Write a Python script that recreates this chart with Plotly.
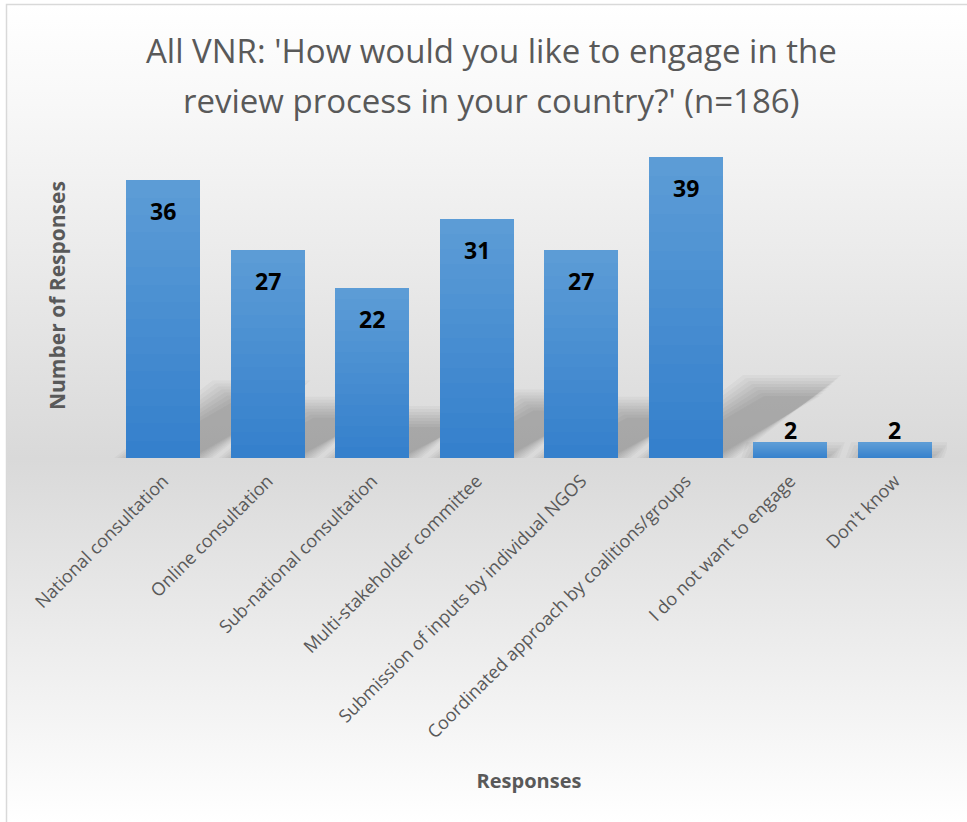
import base64

import plotly.graph_objects as go

categories = [
    "National consultation",
    "Online consultation",
    "Sub-national consultation",
    "Multi-stakeholder committee",
    "Submission of inputs by individual NGOS",
    "Coordinated approach by coalitions/groups",
    "I do not want to engage",
    "Don't know",
]
responses = [36, 27, 22, 31, 27, 39, 2, 2]

TITLE_1 = "All VNR: 'How would you like to engage in the"
TITLE_2 = "review process in your country?' (n=186)"
X_TITLE = "Responses"
Y_TITLE = "Number of Responses"

W, H = 967, 822
L, R, T, B = 111, 20, 111, 364
PW, PH = W - L - R, H - T - B
Y_MAX = 45
BARGAP = 0.29
FONT = "Open Sans"
GREY = "#595959"


def px_x(px):
    return (px - L) / PW


def px_y(py):
    return (H - B - py) / PH


def mix(c0, c1, f):
    a = [int(c0[i:i + 2], 16) for i in (1, 3, 5)]
    b = [int(c1[i:i + 2], 16) for i in (1, 3, 5)]
    return "#" + "".join(f"{round(x + (y - x) * f):02x}" for x, y in zip(a, b))


# chart-area background: vertical white -> grey -> white gradient (as an inline svg image)
bg_svg = (
    '<svg xmlns="http://www.w3.org/2000/svg" width="100" height="100" viewBox="0 0 100 100" '
    'preserveAspectRatio="none"><defs><linearGradient id="g" x1="0" y1="0" x2="0" y2="1">'
    '<stop offset="0" stop-color="#ffffff"/><stop offset="0.12" stop-color="#f8f8f8"/>'
    '<stop offset="0.555" stop-color="#d9d9d9"/><stop offset="1" stop-color="#ffffff"/>'
    '</linearGradient></defs><rect width="100" height="100" fill="url(#g)"/></svg>'
)
bg_src = "data:image/svg+xml;base64," + base64.b64encode(bg_svg.encode()).decode()

fig = go.Figure()

# bars drawn as thin stacked slices so each bar fades from dark (base) to light (top)
N_SLICES = 16
BAR_BOTTOM, BAR_TOP = "#3580cc", "#5c9cd6"
for k in range(N_SLICES):
    fig.add_trace(go.Bar(
        x=categories, y=[v / N_SLICES for v in responses],
        marker=dict(color=mix(BAR_BOTTOM, BAR_TOP, k / (N_SLICES - 1)), line=dict(width=0)),
        showlegend=False, hoverinfo="skip",
    ))

# soft "perspective" shadow behind each bar: a skewed, squashed copy, layered to fake a blur
half = (1 - BARGAP) / 2
cat_px, unit_px = PW / len(categories), PH / Y_MAX
shapes = []
for i, v in enumerate(responses):
    sh = 0.236 * v                      # shadow height, y units
    dx = 1.5 * sh * unit_px / cat_px    # skew to the right, category units
    for e in (12, 9, 6, 3, 0, -3, -6, -9):  # px grown / shrunk per layer
        ex, ey = e / cat_px, e / unit_px
        top = max(sh + ey, 0.05)
        x0, x1 = i - half - ex, i + half + ex
        shapes.append(dict(
            type="path", xref="x", yref="y", layer="below", line=dict(width=0),
            fillcolor="rgba(0,0,0,0.03)",
            path=f"M{x0},0 L{x1},0 L{x1 + dx},{top} L{x0 + dx},{top} Z",
        ))
shapes.append(dict(
    type="rect", xref="paper", yref="paper", x0=px_x(6.5), y0=px_y(4.5),
    x1=px_x(W + 10), y1=px_y(H + 10), line=dict(color="#d9d9d9", width=1.5),
    fillcolor="rgba(0,0,0,0)", layer="above",
))

annotations = []
for cat, v in zip(categories, responses):
    annotations.append(dict(
        x=cat, y=v, text=str(v), showarrow=False, yanchor="middle",
        yshift=-31 if v > 5 else 13,
        font=dict(family=FONT, size=23, color="black", weight=700),
    ))
for text, py in ((TITLE_1, 50), (TITLE_2, 100)):
    annotations.append(dict(
        x=px_x(491), y=px_y(py), xref="paper", yref="paper", text=text, showarrow=False,
        xanchor="center", yanchor="middle", font=dict(family=FONT, size=33, color=GREY),
    ))
annotations.append(dict(
    x=px_x(57), y=px_y(296), xref="paper", yref="paper", text=Y_TITLE, showarrow=False,
    textangle=-90, xanchor="center", yanchor="middle",
    font=dict(family=FONT, size=21, color=GREY, weight=700),
))

fig.update_layout(
    width=W, height=H, margin=dict(l=L, r=R, t=T, b=B),
    paper_bgcolor="white", plot_bgcolor="rgba(0,0,0,0)",
    barmode="stack", bargap=BARGAP, showlegend=False,
    font=dict(family=FONT, color=GREY),
    xaxis=dict(
        tickangle=-45, tickfont=dict(size=18, color=GREY), showline=False, showgrid=False,
        ticks="", ticklabelstandoff=8, range=[-0.5, len(categories) - 0.5],
        title=dict(text=X_TITLE, font=dict(size=20, color=GREY, weight=700), standoff=32),
    ),
    yaxis=dict(
        range=[0, Y_MAX], showticklabels=False, showgrid=False, zeroline=False, showline=False,
    ),
    images=[dict(
        source=bg_src, xref="paper", yref="paper", x=px_x(7), y=px_y(5),
        sizex=px_x(W) - px_x(7), sizey=px_y(5) - px_y(H), sizing="stretch",
        xanchor="left", yanchor="top", layer="below",
    )],
    shapes=shapes,
    annotations=annotations,
)

# the page's default 8px body margin would shift the whole chart; drop it
fig.write_html("out.html", config={"displayModeBar": False},
               post_script="document.body.style.margin='0';")
